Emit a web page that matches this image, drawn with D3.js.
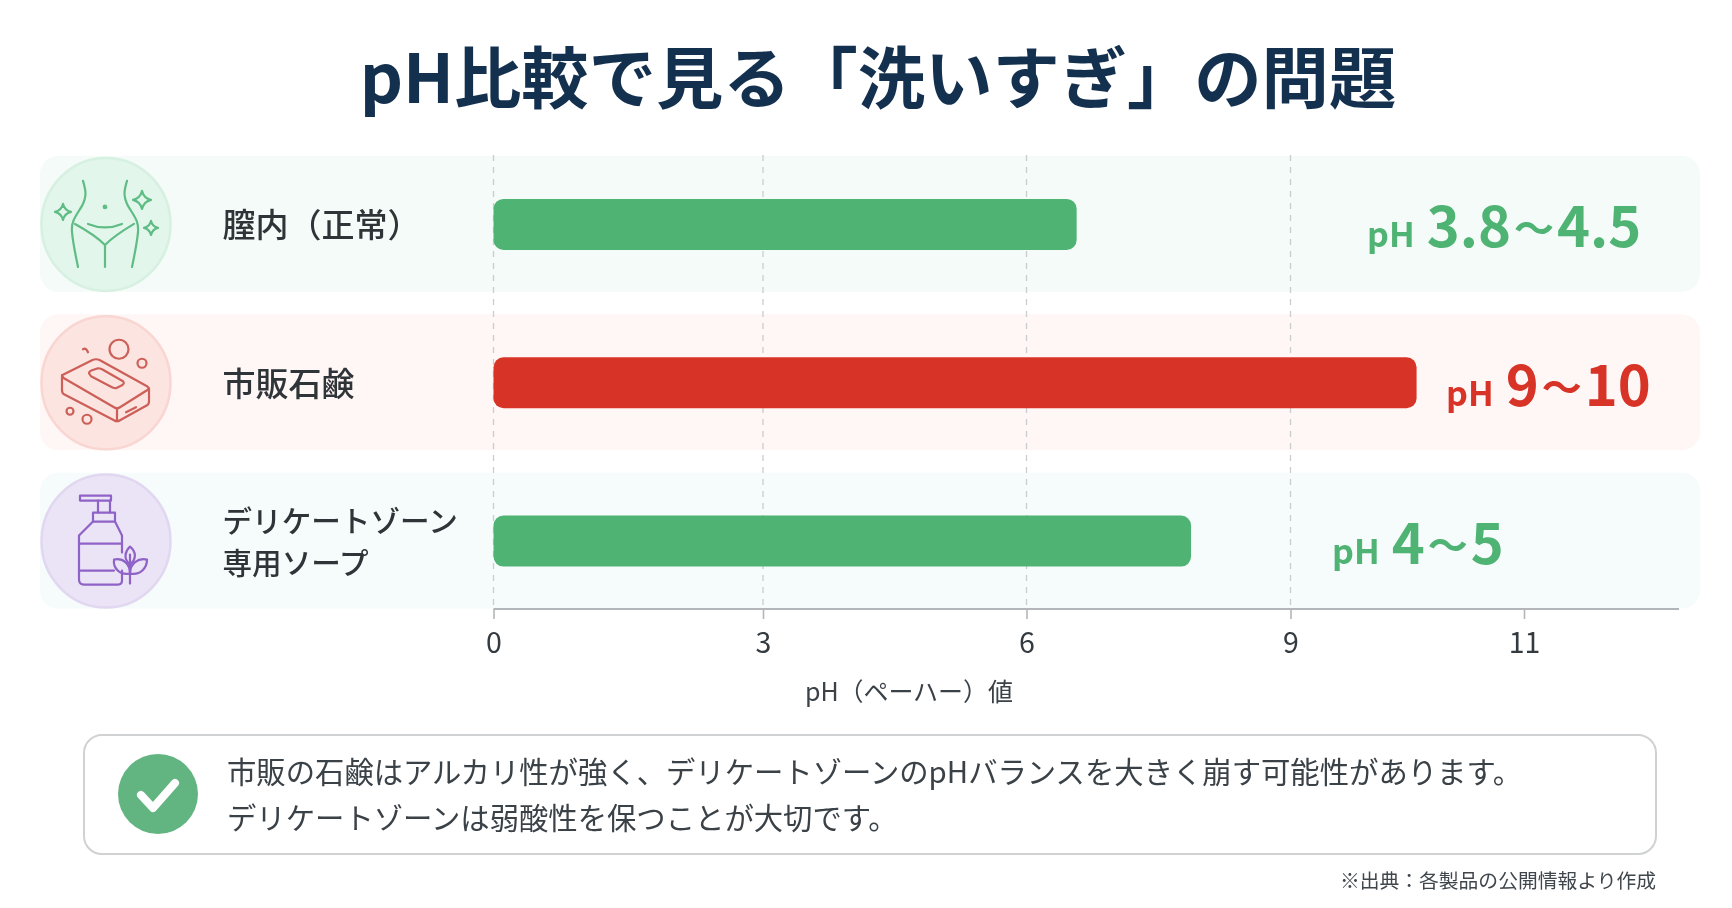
<!DOCTYPE html>
<html lang="ja"><head><meta charset="utf-8">
<script src="https://cdn.jsdelivr.net/npm/d3@7/dist/d3.min.js"></script>
<style>
html,body{margin:0;padding:0;background:#fff;overflow:hidden}
svg{display:block;font-family:"Noto Sans CJK JP","Noto Sans",sans-serif;filter:blur(0.35px)}
</style></head><body><svg id="c" width="1732" height="908"></svg>
<script>
const titleText = "pH比較で見る「洗いすぎ」の問題";
const categories = ["膣内（正常）", "市販石鹸", "デリケートゾーン\n専用ソープ"];
const barValues = [6.57, 10.08, 7.87];
const rangeLow = ["3.8", "9", "4"];
const rangeHigh = ["4.5", "10", "5"];
const barColors = ["#4fb374", "#d83327", "#4fb374"];
const rowColors = ["#f5fbf8", "#fef7f6", "#f6fbfc"];
const circleFills = ["#e3f6ec", "#fce4e1", "#ebe4f6"];
const circleEdges = ["#d6f0e1", "#f9d6d2", "#e1d7f0"];
const iconColors = ["#5fbc84", "#cc6059", "#8e62c6"];
const tickValues = [0, 3, 6, 9, 11];
const gridValues = [0, 3, 6, 9];
const axisTitle = "pH（ペーハー）値";
const noteLines = ["市販の石鹸はアルカリ性が強く、デリケートゾーンのpHバランスを大きく崩す可能性があります。", "デリケートゾーンは弱酸性を保つことが大切です。"];
const sourceText = "※出典：各製品の公開情報より作成";

const svg = d3.select("#c");
const x = d3.scaleLinear().domain(tickValues).range([493.5, 763, 1026.5, 1290.5, 1524]);
const y = d3.scaleBand().domain(categories).range([156, 608.5]).paddingInner(0.142);
const axisY = 609, barH = 51;

svg.append("text").attr("x", 878).attr("y", 103).attr("text-anchor", "middle")
  .attr("font-size", 67.3).attr("font-weight", 700).attr("fill", "#14304f").text(titleText);

svg.append("g").selectAll("rect").data(categories).join("rect")
  .attr("x", 40).attr("y", d => y(d)).attr("width", 1660).attr("height", y.bandwidth())
  .attr("rx", 18).attr("fill", (d, i) => rowColors[i]);

svg.append("g").selectAll("line").data(gridValues).join("line")
  .attr("x1", d => x(d)).attr("x2", d => x(d)).attr("y1", 155).attr("y2", axisY)
  .attr("stroke", "#c9cdcf").attr("stroke-width", 1.3).attr("stroke-dasharray", "6 6");

const axis = svg.append("g").attr("transform", `translate(0,${axisY})`)
  .call(d3.axisBottom(x).tickValues(tickValues).tickFormat(d3.format("d")).tickSize(10).tickPadding(14));
axis.select(".domain").attr("d", `M${x(0)},0H1679`).attr("stroke", "#b3b6b8").attr("stroke-width", 2);
axis.selectAll(".tick line").attr("stroke", "#b3b6b8").attr("stroke-width", 1.6);
axis.selectAll(".tick text").attr("font-family", "'Noto Sans CJK JP'").attr("font-size", 28.5).attr("fill", "#333a40");

svg.append("text").attr("x", 909).attr("y", 701).attr("text-anchor", "middle")
  .attr("font-size", 25).attr("fill", "#3a4147").text(axisTitle);

svg.append("g").selectAll("rect").data(categories).join("rect")
  .attr("x", x(0)).attr("y", d => y(d) + y.bandwidth() / 2 - barH / 2 + 0.5)
  .attr("width", (d, i) => x(barValues[i]) - x(0)).attr("height", barH).attr("rx", 10)
  .attr("fill", (d, i) => barColors[i]);

// icon discs
const cx = 106;
const cy = d => y(d) + y.bandwidth() / 2;
svg.append("g").selectAll("ellipse").data(categories).join("ellipse")
  .attr("cx", cx).attr("cy", d => cy(d) + 0.5).attr("rx", 64.5).attr("ry", 66.5)
  .attr("fill", (d, i) => circleFills[i]).attr("stroke", (d, i) => circleEdges[i]).attr("stroke-width", 2.5);

const sparkle = (a, b, r) => `M${a},${b - r}Q${a + r * .2},${b - r * .2} ${a + r},${b}Q${a + r * .2},${b + r * .2} ${a},${b + r}Q${a - r * .2},${b + r * .2} ${a - r},${b}Q${a - r * .2},${b - r * .2} ${a},${b - r}Z`;
const iconPaths = [
  ["M-23,-43C-20,-33 -19,-28 -24,-18C-30,-8 -35,-3 -34,8C-33,20 -30,33 -28,43",
   "M21,-43C18,-33 17,-28 22,-18C28,-8 33,-3 32,8C31,20 28,33 26,43",
   "M-31,0C-20,6 -8,14 -1,21C6,14 18,6 28,0", "M-1,21V43", "M-18,0Q-1,7 16,0",
   sparkle(-43, -12, 8), sparkle(36, -24, 9), sparkle(45, 4, 7)],
  ["M-44,-7L-14,-22Q-10,-24 -6,-22L41,4Q44,6 41,8L14,25Q11,27 8,25L-42,-4Q-44,-6 -44,-7Z",
   "M-44,-7V8Q-44,11 -42,12L8,38Q11,40 14,38L41,23Q43,22 43,19V6", "M11,26V39",
   "M-17,-9Q-17,-11 -14,-12L-8,-14Q-6,-14 -4,-13L17,-1Q19,1 16,3L10,6Q8,6 6,5L-15,-6Z",
   "M-23,-33Q-20,-35 -18,-30", "M20,30L30,25"],
  ["M-26,-45H5V-40H-26Z", "M-8,-40V-28M4,-40V-28", "M-13,-28H9V-19H-13Z",
   "M-13,-19L-27,-5V39Q-27,44 -22,44H12Q16,44 16,40V30", "M9,-19L16,-5V12",
   "M-27,3H16", "M-27,30H8", "M24,43V14",
   "M24,24C17,18 19,11 24,6C30,11 31,18 24,24Z",
   "M24,33C13,35 7,27 8,19C17,17 24,23 24,33Z",
   "M24,33C35,35 41,27 41,19C32,17 24,23 24,33Z"]
];
const iconDots = [
  [[-1, -17, 1.3]],
  [[13, -33, 9.5], [36, -19, 4.5], [-36, 29, 3.5], [-19, 37, 4.5]],
  []
];
categories.forEach((d, i) => {
  const g = svg.append("g").attr("transform", `translate(${cx},${cy(d)})`)
    .attr("fill", "none").attr("stroke", iconColors[i]).attr("stroke-width", 2.2)
    .attr("stroke-linecap", "round").attr("stroke-linejoin", "round");
  g.selectAll("path").data(iconPaths[i]).join("path").attr("d", p => p);
  g.selectAll("circle").data(iconDots[i]).join("circle")
    .attr("cx", p => p[0]).attr("cy", p => p[1]).attr("r", p => p[2]);
});

// category labels
categories.forEach(d => {
  const lines = d.split("\n");
  const t = svg.append("text").attr("font-weight", 500).attr("fill", "#2f3438");
  const c = cy(d);
  lines.forEach((l, j) => {
    t.append("tspan").attr("x", 222.5)
      .attr("y", lines.length > 1 ? c - 9 + j * 42 : c + 13.5)
      .attr("font-size", lines.length > 1 ? 29.6 : 33).text(l);
  });
});

// value labels
const valueLeft = [1367, 1446, 1332];
categories.forEach((d, i) => {
  const t = svg.append("text").attr("x", valueLeft[i]).attr("y", cy(d) + 23.5)
    .attr("font-weight", 700).attr("fill", barColors[i]);
  t.append("tspan").attr("font-size", 34).text("pH");
  t.append("tspan").attr("dx", 12).attr("font-size", 56).text(rangeLow[i]);
  t.append("tspan").attr("dx", 3).attr("font-size", 40).attr("dy", -4).text("～");
  t.append("tspan").attr("dx", 3).attr("dy", 4).attr("font-size", 56).text(rangeHigh[i]);
});

// note box
svg.append("rect").attr("x", 84).attr("y", 735).attr("width", 1572).attr("height", 119)
  .attr("rx", 18).attr("fill", "#fff").attr("stroke", "#cfd1d2").attr("stroke-width", 2);
svg.append("circle").attr("cx", 158).attr("cy", 794).attr("r", 40).attr("fill", "#62b580");
svg.append("path").attr("d", "M141,795L153,808L175,783").attr("fill", "none")
  .attr("stroke", "#fff").attr("stroke-width", 8).attr("stroke-linecap", "round").attr("stroke-linejoin", "round");
svg.append("g").selectAll("text").data(noteLines).join("text")
  .attr("x", 227).attr("y", (d, i) => 783 + i * 46).attr("font-size", 29.35).attr("fill", "#3a4147").text(d => d);

svg.append("text").attr("x", 1656).attr("y", 888).attr("text-anchor", "end")
  .attr("font-size", 19.8).attr("fill", "#3f464c").text(sourceText);
</script></body></html>
